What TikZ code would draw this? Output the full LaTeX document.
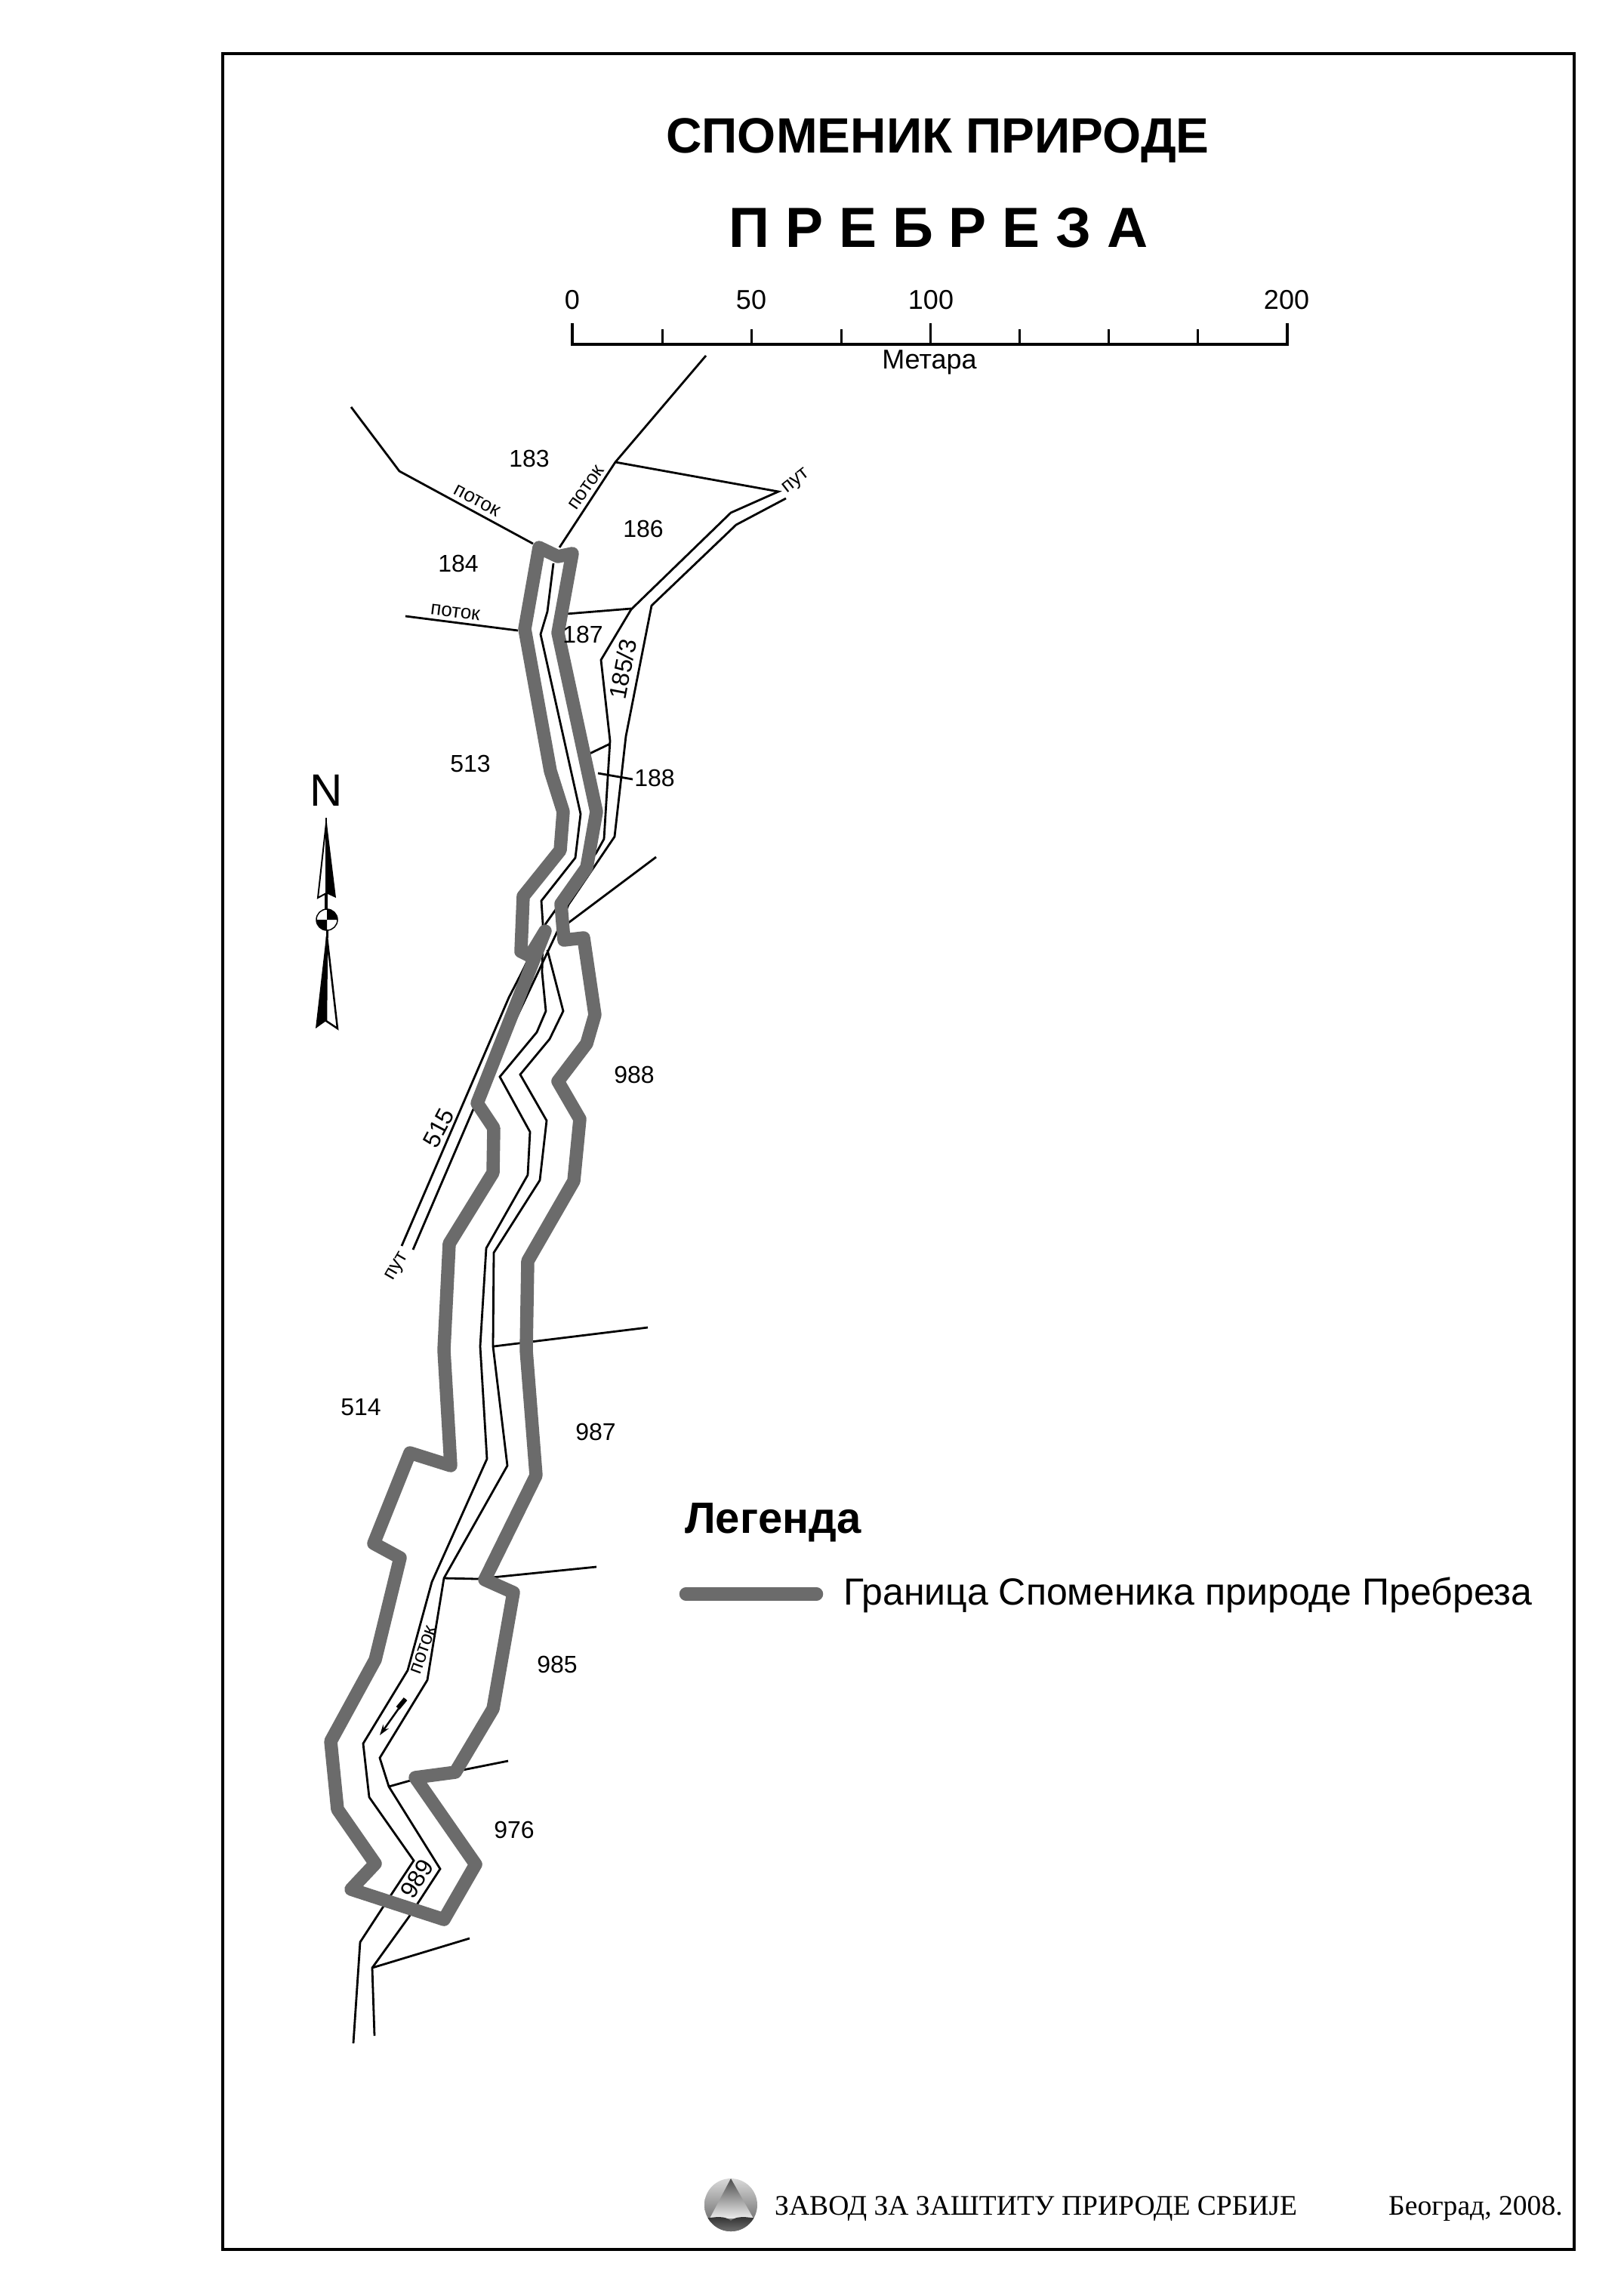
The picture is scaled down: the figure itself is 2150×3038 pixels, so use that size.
\documentclass[tikz,border=0pt]{standalone}
\usepackage{fontspec}
\usetikzlibrary{arrows.meta}
\setmainfont{Liberation Sans}
\newfontfamily\serifcyr{Liberation Serif}
\definecolor{border}{HTML}{6B6B6B}
\tikzset{
  x=1pt,y=-1pt,
  thinline/.style={draw=black,line width=2.8pt,line join=miter,line cap=butt},
  boundary/.style={draw=border,line width=17.5pt,line join=round,line cap=round},
  lab/.style={inner sep=0pt,font=\fontsize{32}{36}\selectfont},
  minilab/.style={inner sep=0pt,font=\fontsize{26}{30}\selectfont},
  scalelab/.style={inner sep=0pt,font=\fontsize{36}{40}\selectfont},
  foot/.style={inner sep=0pt,anchor=base west,font=\fontsize{37.6}{40}\selectfont\serifcyr},
}
\begin{document}
\begin{tikzpicture}
\useasboundingbox (0,0) rectangle (2150,3038);
\fill[white] (0,0) rectangle (2150,3038);
% frame
\draw[black,line width=4pt] (295,71) rectangle (2085,2979);
% titles
\node[inner sep=0pt,anchor=base,font=\fontsize{65.7}{72}\selectfont\bfseries] (title) at (1242,202) {СПОМЕНИК ПРИРОДЕ};
\node[inner sep=0pt,anchor=base,font=\fontsize{75}{80}\selectfont\bfseries] (name) at (1243,327) {П Р Е Б Р Е З А};
% scale
\draw[black,line width=3.5pt,line cap=butt] (758,428) -- (758,456) -- (1705,456) -- (1705,428);
\draw[black,line width=3pt] (1232,456) -- (1232,428);
\foreach \t in {877,995,1114,1350,1468,1586} \draw[black,line width=3pt] (\t,456) -- (\t,436);
\node[scalelab] (s0) at (758,397) {0};
\node[scalelab] (s50) at (995,397) {50};
\node[scalelab] (s100) at (1233,397) {100};
\node[scalelab] (s200) at (1704,397) {200};
\node[inner sep=0pt,anchor=base,font=\fontsize{36}{40}\selectfont] (met) at (1231,488) {Метара};
% streams and parcels
\draw[thinline] (465,539) -- (529,624) -- (706,720);
\draw[thinline] (741,725) -- (815,612) -- (935,471);
\draw[thinline] (815,612) -- (1031,651) -- (968,679) -- (836,807) -- (796,874) -- (808,981) -- (800,1111) -- (790,1129) -- (735,1206) -- (723,1223) -- (690,1290) -- (674,1321) -- (532,1650);
\draw[thinline] (1041,660) -- (975,695) -- (863,802) -- (829,975) -- (814,1108) -- (753,1198) -- (737,1236) -- (626,1471) -- (547,1655);
\draw[thinline] (733,746) -- (725,810) -- (716,840) -- (769,1078) -- (762,1136) -- (717,1193) -- (719,1223) -- (718,1288) -- (723,1339) -- (711,1367) -- (662,1426) -- (702,1499) -- (699,1556) -- (644,1653) -- (636,1783) -- (645,1932) -- (572,2095) -- (540,2212) -- (481,2309) -- (489,2380) -- (548,2464) -- (507,2526) -- (477,2572) -- (468,2706);
\draw[thinline] (725,1258) -- (746,1339) -- (728,1376) -- (689,1423) -- (724,1484) -- (715,1563) -- (654,1659) -- (653,1783) -- (672,1941) -- (588,2090) -- (566,2225) -- (503,2328) -- (515,2366) -- (583,2475) -- (542,2538) -- (493,2606) -- (496,2696);
\draw[thinline] (654,1783) -- (858,1758);
\draw[thinline] (588,2090) -- (632,2091) -- (790,2075);
\draw[thinline] (515,2366) -- (547,2357) -- (613,2344) -- (673,2332);
\draw[thinline] (493,2606) -- (622,2567);
\draw[thinline] (750,813) -- (836,806);
\draw[thinline] (537,816) -- (686,835);
\draw[thinline] (781,998) -- (808,985);
\draw[thinline] (792,1024) -- (838,1032);
\draw[thinline] (745,1228) -- (869,1135);
% boundary
\draw[boundary] (714,725) -- (739,737) -- (758,733) -- (739,838) -- (790,1075) -- (777,1149) -- (743,1197) -- (747,1245) -- (773,1242) -- (788,1344) -- (777,1382) -- (739,1432) -- (768,1482) -- (760,1564) -- (699,1670) -- (697,1788) -- (710,1954) -- (642,2092) -- (680,2109) -- (653,2263) -- (603,2347) -- (550,2354) -- (630,2469) -- (588,2542) -- (465,2502) -- (497,2468) -- (447,2396) -- (438,2306) -- (497,2198) -- (530,2063) -- (495,2044) -- (543,1924) -- (597,1941) -- (588,1788) -- (595,1647) -- (653,1553) -- (654,1494) -- (632,1461) -- (722,1233) -- (702,1266) -- (690,1260) -- (693,1187) -- (742,1126) -- (746,1075) -- (729,1021) -- (695,833) -- cycle;
% flow arrow
\coordinate (fa) at (537,2250);
\coordinate (fb) at (503,2298);
\draw[black,line width=2.5pt,-{Stealth[length=14pt,width=9pt]}] (fa) -- (fb);
\draw[black,line width=6pt] (fa) -- (527,2262);
% parcel numbers
\node[lab] (p183) at (701,607) {183};
\node[lab] (p186) at (852,700) {186};
\node[lab] (p184) at (607,746) {184};
\node[lab] (p187) at (772,840) {187};
\node[lab] (p513) at (623,1011) {513};
\node[lab] (p188) at (867,1030) {188};
\node[lab] (p988) at (840,1423) {988};
\node[lab] (p987) at (789,1896) {987};
\node[lab] (p514) at (478,1864) {514};
\node[lab] (p985) at (738,2204) {985};
\node[lab] (p976) at (681,2423) {976};
\node[lab,rotate=58] (p989) at (552,2488) {989};
\node[lab,rotate=62] (p515) at (581,1494) {515};
\node[lab,rotate=79] (p1853) at (825,886) {185/3};
% small labels
\node[minilab,rotate=-28] (t1) at (632,663) {поток};
\node[minilab,rotate=55] (t2) at (777,646) {поток};
\node[minilab,rotate=-7] (t3) at (603,811) {поток};
\node[minilab,rotate=70] (t4) at (561,2185) {поток};
\node[minilab,rotate=38] (t5) at (1055,638) {пут};
\node[minilab,rotate=60] (t6) at (527,1678) {пут};
% north arrow
\node[inner sep=0pt,font=\fontsize{60}{64}\selectfont] (north) at (432,1047) {N};
\fill[black] (432,1083) -- (445,1189) -- (432,1183) -- cycle;
\filldraw[fill=white,draw=black,line width=2pt] (432,1090) -- (421,1189) -- (432,1183) -- cycle;
\draw[black,line width=4pt] (432,1183) -- (432,1205);
\draw[black,line width=2pt] (432,1083) -- (432,1100);
\draw[black,line width=1.5pt,fill=white] (433,1218) circle (14);
\fill[black] (433,1218) -- (419,1218) arc[start angle=180,end angle=90,radius=14] -- cycle;
\fill[black] (433,1218) -- (447,1218) arc[start angle=0,end angle=-90,radius=14] -- cycle;
\draw[black,line width=3pt] (433,1232) -- (433,1242);
\filldraw[fill=white,draw=black,line width=2.5pt] (433,1240) -- (447,1362) -- (432,1352) -- cycle;
\fill[black] (432,1240) -- (418,1362) -- (432,1352) -- cycle;
% legend
\node[inner sep=0pt,anchor=base west,font=\fontsize{58}{62}\selectfont\bfseries] (legt) at (907,2030) {Легенда};
\coordinate (la) at (908.5,2111);
\coordinate (lb) at (1081.5,2111);
\draw[boundary] (la) -- (lb);
\node[inner sep=0pt,anchor=base west,font=\fontsize{50}{54}\selectfont] (legl) at (1117,2125) {Граница Споменика природе Пребреза};
% logo
\begin{scope}
\clip (968,2920) circle (35);
\shade[top color=gray!30,bottom color=black!65] (930,2885) rectangle (1006,2955);
\shade[top color=black!70,bottom color=black!8] (968,2885) -- (998,2938) -- (940,2938) -- cycle;
\shade[top color=black!80,bottom color=black!55] (930,2938) -- (950,2936) .. controls (960,2936) and (965,2938) .. (968,2941) .. controls (971,2938) and (976,2936) .. (986,2936) -- (1006,2938) -- (1006,2956) -- (930,2956) -- cycle;
\end{scope}
% footer
\node[foot] (zavod) at (1026,2933) {ЗАВОД ЗА ЗАШТИТУ ПРИРОДЕ СРБИЈЕ};
\node[foot] (grad) at (1839,2933) {Београд, 2008.};
\end{tikzpicture}
\end{document}
